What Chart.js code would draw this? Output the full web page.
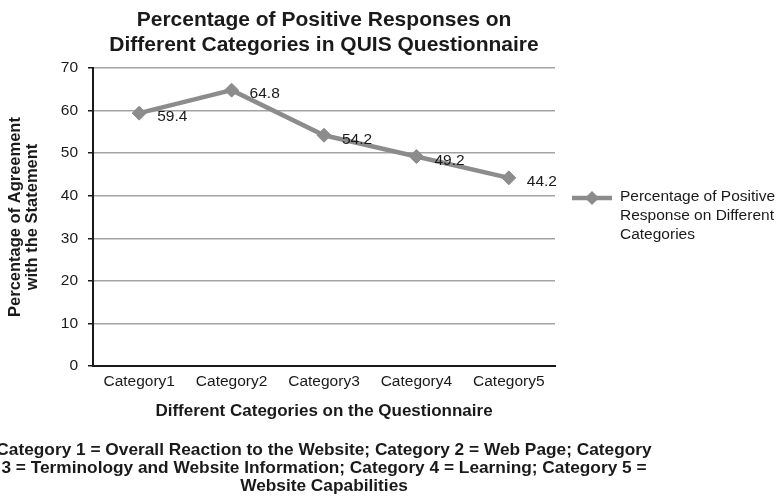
<!DOCTYPE html>
<html lang="en">
  <head>
    <meta charset="UTF-8" />
    <title>QUIS Questionnaire - Positive Responses</title>
    <script src="https://cdn.jsdelivr.net/npm/chart.js"></script>
    <style>
      html, body { margin: 0; padding: 0; background: #ffffff; }
      #quisChart { display: block; }
    </style>
  </head>
  <body>
    <canvas id="quisChart" width="782" height="498"></canvas>

    <script>
      // Chart data
      const categories = ['Category1', 'Category2', 'Category3', 'Category4', 'Category5'];
      const positivePct = [59.4, 64.8, 54.2, 49.2, 44.2];
      const yTicks = [0, 10, 20, 30, 40, 50, 60, 70];

      const seriesName = ['Percentage of Positive', 'Response on Different', 'Categories'];
      const titleLines = ['Percentage of Positive Responses on', 'Different Categories in QUIS Questionnaire'];
      const noteLines = [
        'Category 1 = Overall Reaction to the Website; Category 2 = Web Page; Category',
        '3 = Terminology and Website Information; Category 4 = Learning; Category 5 =',
        'Website Capabilities'
      ];

      const FONT = '"Liberation Sans", Arial, Helvetica, sans-serif';
      const LINE_GREY = '#8c8c8c';
      const TEXT = '#1a1a1a';

      function diamond(ctx, x, y, r) {
        ctx.beginPath();
        ctx.moveTo(x - r, y);
        ctx.lineTo(x, y - r);
        ctx.lineTo(x + r, y);
        ctx.lineTo(x, y + r);
        ctx.closePath();
        ctx.fill();
      }

      // title, value labels, legend and footnote
      const extraText = {
        id: 'extraText',
        afterDraw(chart) {
          const ctx = chart.ctx;
          const area = chart.chartArea;
          const mid = (area.left + area.right) / 2;
          ctx.save();
          ctx.fillStyle = TEXT;
          ctx.textBaseline = 'middle';

          // title
          ctx.textAlign = 'center';
          ctx.font = 'bold 21px ' + FONT;
          titleLines.forEach((t, i) => ctx.fillText(t, mid, 20 + i * 25));

          // value labels next to each point
          ctx.textAlign = 'left';
          ctx.font = '15.5px ' + FONT;
          const meta = chart.getDatasetMeta(0);
          meta.data.forEach((pt, i) => {
            ctx.fillText(String(positivePct[i]), pt.x + 18, pt.y + 4);
          });

          // legend
          const lx = area.right + 17, ly = 198;
          ctx.strokeStyle = LINE_GREY;
          ctx.lineWidth = 4.5;
          ctx.beginPath();
          ctx.moveTo(lx, ly);
          ctx.lineTo(lx + 40, ly);
          ctx.stroke();
          ctx.fillStyle = LINE_GREY;
          diamond(ctx, lx + 20, ly, 7);
          ctx.fillStyle = TEXT;
          seriesName.forEach((t, i) => ctx.fillText(t, lx + 48, ly - 1 + i * 19));

          // footnote
          ctx.textAlign = 'center';
          ctx.font = 'bold 17.3px ' + FONT;
          noteLines.forEach((t, i) => ctx.fillText(t, mid, 450 + i * 18));

          ctx.restore();
        }
      };

      new Chart(document.getElementById('quisChart'), {
        type: 'line',
        data: {
          labels: categories,
          datasets: [{
            label: seriesName.join(' '),
            data: positivePct,
            borderColor: LINE_GREY,
            backgroundColor: LINE_GREY,
            borderWidth: 4.5,
            pointStyle: 'rectRot',
            pointRadius: 7,
            pointBorderWidth: 1,
            pointBackgroundColor: LINE_GREY,
            pointBorderColor: LINE_GREY,
            tension: 0,
            fill: false
          }]
        },
        options: {
          responsive: false,
          animation: false,
          layout: { padding: { top: 68, right: 227, bottom: 72, left: 0 } },
          plugins: {
            legend: { display: false },
            title: { display: false },
            tooltip: { enabled: false }
          },
          scales: {
            x: {
              offset: true,
              afterFit(scale) { scale.height = 60; },
              grid: { display: false, drawTicks: false },
              border: { display: true, color: TEXT, width: 2 },
              ticks: {
                color: TEXT,
                padding: 6,
                font: { family: FONT, size: 15.5 }
              },
              title: {
                display: true,
                text: 'Different Categories on the Questionnaire',
                color: TEXT,
                font: { family: FONT, size: 17, weight: 'bold', lineHeight: 1.1 },
                padding: { top: 0, bottom: 5 }
              }
            },
            y: {
              min: 0,
              max: 70,
              afterFit(scale) { scale.width = 93; },
              afterBuildTicks(scale) { scale.ticks = yTicks.map(v => ({ value: v })); },
              grid: {
                color: '#a3a3a3',
                lineWidth: 1.5,
                tickColor: TEXT,
                tickLength: 5,
                tickWidth: 1.5
              },
              border: { display: true, color: TEXT, width: 2 },
              ticks: {
                color: TEXT,
                padding: 10,
                font: { family: FONT, size: 15.5 }
              },
              title: {
                display: true,
                text: ['Percentage of Agreement', 'with the Statement'],
                color: TEXT,
                font: { family: FONT, size: 16.5, weight: 'bold', lineHeight: 1.03 },
                padding: { top: 6.5, bottom: 0 }
              }
            }
          }
        },
        plugins: [extraText]
      });
    </script>
  </body>
</html>
